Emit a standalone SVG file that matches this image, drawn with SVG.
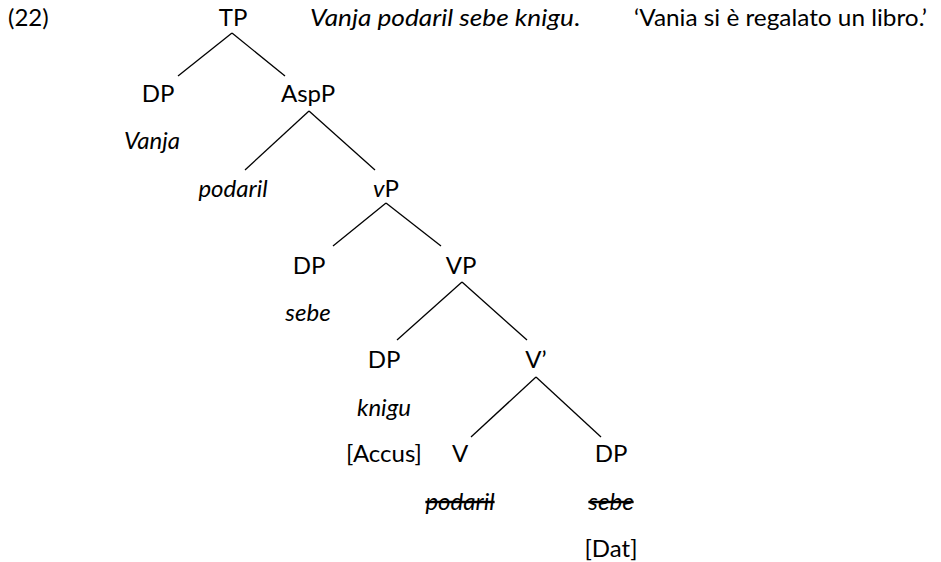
<svg xmlns="http://www.w3.org/2000/svg" width="941" height="562" viewBox="0 0 941 562">
<style>
text{font-family:Lato,"Liberation Sans",sans-serif;font-size:24px;fill:#000}
.m{text-anchor:middle}
.i{font-style:italic}
.s{text-decoration:line-through}
#edges line{stroke:#000;stroke-width:1.3}
</style>
<rect width="941" height="562" fill="#fff"/>
<g id="edges">
<line x1="232" y1="33" x2="178" y2="76"/>
<line x1="232" y1="33" x2="285" y2="76"/>
<line x1="309" y1="111" x2="245" y2="170"/>
<line x1="309" y1="111" x2="375" y2="170"/>
<line x1="386" y1="203" x2="333" y2="246"/>
<line x1="386" y1="203" x2="441" y2="246"/>
<line x1="462" y1="282" x2="397" y2="340"/>
<line x1="462" y1="282" x2="527" y2="340"/>
<line x1="536" y1="377" x2="471" y2="437"/>
<line x1="536" y1="377" x2="601" y2="437"/>
</g>
<g id="label"><text x="8" y="26">(22)</text></g>
<g id="sentence"><text x="310" y="26" textLength="270" lengthAdjust="spacingAndGlyphs"><tspan class="i">Vanja podaril sebe knigu</tspan>.</text></g>
<g id="gloss"><text x="634" y="26" textLength="293" lengthAdjust="spacingAndGlyphs">‘Vania si è regalato un libro.’</text></g>
<g id="TP"><text class="m" x="233" y="26">TP</text></g>
<g id="DP1"><text class="m" x="158" y="102">DP</text><text class="m i" x="152" y="149">Vanja</text></g>
<g id="AspP"><text class="m" x="308" y="102">AspP</text></g>
<g id="Asp"><text class="m i" x="233" y="197">podaril</text></g>
<g id="vP"><text class="m" x="386" y="197"><tspan class="i">v</tspan>P</text></g>
<g id="DP2"><text class="m" x="309" y="274">DP</text><text class="m i" x="308" y="321">sebe</text></g>
<g id="VP"><text class="m" x="461" y="274">VP</text></g>
<g id="DP3"><text class="m" x="384" y="368">DP</text><text class="m i" x="384" y="416">knigu</text><text class="m" x="384" y="462">[Accus]</text></g>
<g id="Vbar"><text class="m" x="536" y="368">V’</text></g>
<g id="V"><text class="m" x="460" y="462">V</text><text class="m i s" x="460" y="510">podaril</text></g>
<g id="DP4"><text class="m" x="611" y="462">DP</text><text class="m i s" x="611" y="510">sebe</text><text class="m" x="611" y="557">[Dat]</text></g>
</svg>
